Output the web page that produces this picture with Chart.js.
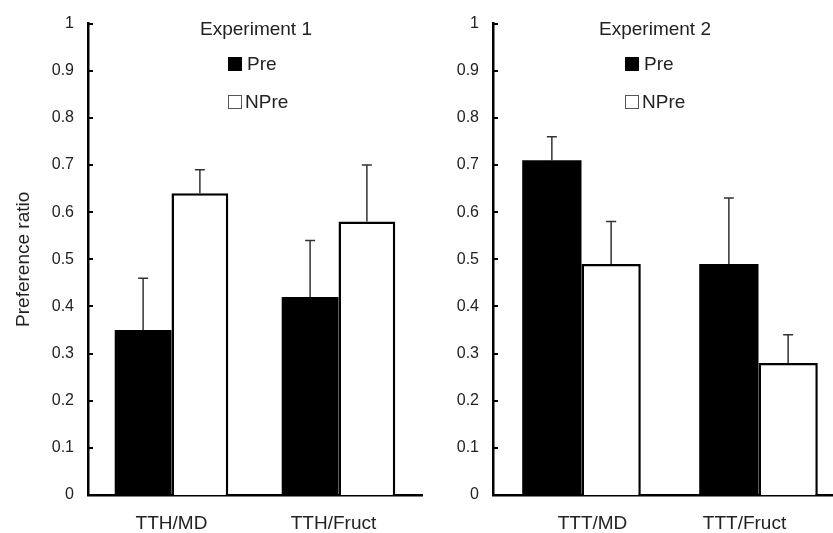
<!DOCTYPE html>
<html>
<head>
<meta charset="utf-8">
<script src="https://cdn.jsdelivr.net/npm/chart.js@4"></script>
<style>
  html, body { margin: 0; padding: 0; background: #fff; }
  #wrap { position: relative; width: 833px; height: 533px; overflow: hidden; }
  canvas { position: absolute; top: 0; }
  #c1 { left: 0; }
  #c2 { left: 420px; }
</style>
</head>
<body>
<div id="wrap">
  <canvas id="c1" width="430" height="533"></canvas>
  <canvas id="c2" width="440" height="533"></canvas>
</div>
<script>
// experiment 1
const exp1Labels = ["TTH/MD", "TTH/Fruct"];
const exp1Pre = [0.35, 0.42];
const exp1PreErr = [0.11, 0.12];
const exp1NPre = [0.64, 0.58];
const exp1NPreErr = [0.05, 0.12];

// experiment 2
const exp2Labels = ["TTT/MD", "TTT/Fruct"];
const exp2Pre = [0.71, 0.49];
const exp2PreErr = [0.05, 0.14];
const exp2NPre = [0.49, 0.28];
const exp2NPreErr = [0.09, 0.06];

const yTicks = [0, 0.1, 0.2, 0.3, 0.4, 0.5, 0.6, 0.7, 0.8, 0.9, 1];

const FONT = "'Liberation Sans', Arial, sans-serif";
const TEXT = "#222";

// error bars (upward only), inside y ticks, category labels, title + legend
const extras = {
  id: "extras",
  afterDatasetsDraw(chart, args, opts) {
    const ctx = chart.ctx;
    const y = chart.scales.y;
    ctx.save();
    ctx.strokeStyle = "#333";
    ctx.lineWidth = 1.5;
    chart.data.datasets.forEach((ds, i) => {
      const meta = chart.getDatasetMeta(i);
      meta.data.forEach((bar, j) => {
        const top = y.getPixelForValue(ds.data[j] + ds.errors[j]);
        ctx.beginPath();
        ctx.moveTo(bar.x, bar.y);
        ctx.lineTo(bar.x, top);
        ctx.moveTo(bar.x - 5, top);
        ctx.lineTo(bar.x + 5, top);
        ctx.stroke();
      });
    });
    ctx.restore();
  },
  afterDraw(chart, args, opts) {
    const ctx = chart.ctx;
    const area = chart.chartArea;
    const x = chart.scales.x;
    const y = chart.scales.y;
    ctx.save();
    // ticks pointing into the plot
    ctx.strokeStyle = "#000";
    ctx.lineWidth = 2;
    yTicks.forEach((t) => {
      const py = Math.round(y.getPixelForValue(t));
      ctx.beginPath();
      ctx.moveTo(area.left, py);
      ctx.lineTo(area.left + 5, py);
      ctx.stroke();
    });

    ctx.fillStyle = TEXT;
    ctx.font = "19px " + FONT;
    ctx.textBaseline = "middle";
    ctx.textAlign = "center";
    chart.data.labels.forEach((lab, i) => {
      ctx.fillText(lab, x.getPixelForValue(i) + opts.labelShift[i], 524);
    });
    ctx.fillText(opts.title, area.left + opts.titleX, 30);

    const bx = area.left + opts.legendX;
    ctx.textAlign = "left";
    ctx.fillStyle = "#000";
    ctx.fillRect(bx, 57, 14, 14);
    ctx.strokeStyle = "#555";
    ctx.lineWidth = 1;
    ctx.strokeRect(bx + 0.5, 95.5, 13, 13);
    ctx.fillStyle = TEXT;
    ctx.fillText("Pre", bx + 19, 65);
    ctx.fillText("NPre", bx + 17, 103);
    ctx.restore();
  },
};

function makeChart(id, labels, pre, preErr, npre, npreErr, cfg) {
  return new Chart(document.getElementById(id), {
    type: "bar",
    data: {
      labels: labels,
      datasets: [
        {
          label: "Pre",
          data: pre,
          errors: preErr,
          backgroundColor: "#000",
          borderColor: "#000",
          borderWidth: 0,
        },
        {
          label: "NPre",
          data: npre,
          errors: npreErr,
          backgroundColor: "#fff",
          borderColor: "#000",
          borderWidth: 2.5,
          borderSkipped: "bottom",
        },
      ],
    },
    options: {
      responsive: false,
      animation: false,
      devicePixelRatio: 1,
      barPercentage: 1,
      categoryPercentage: cfg.catPct,
      layout: { padding: { left: 0, top: 22, right: cfg.padRight, bottom: 0 } },
      scales: {
        x: {
          grid: { display: false, drawTicks: false },
          border: { display: true, color: "#000", width: 2.5 },
          ticks: { display: false },
          afterFit: (scale) => { scale.height = 38; },
        },
        y: {
          min: 0,
          max: 1,
          afterBuildTicks: (scale) => { scale.ticks = yTicks.map((v) => ({ value: v })); },
          grid: { display: false, drawTicks: false },
          border: { display: true, color: "#000", width: 2.5 },
          ticks: {
            color: TEXT,
            font: { family: FONT, size: 16 },
            padding: 14,
            callback: (v) => String(v),
          },
          title: {
            display: cfg.yTitle,
            text: "Preference ratio",
            color: TEXT,
            font: { family: FONT, size: 19 },
            padding: { top: 12, bottom: 0 },
          },
          afterFit: (scale) => { scale.width = cfg.yWidth; },
        },
      },
      plugins: {
        legend: { display: false },
        tooltip: { enabled: false },
        extras: cfg.extras,
      },
    },
    plugins: [extras],
  });
}

makeChart("c1", exp1Labels, exp1Pre, exp1PreErr, exp1NPre, exp1NPreErr, {
  catPct: 0.68,
  padRight: 8,
  yWidth: 88,
  yTitle: true,
  extras: { title: "Experiment 1", titleX: 168, legendX: 140, labelShift: [0, -5] },
});

makeChart("c2", exp2Labels, exp2Pre, exp2PreErr, exp2NPre, exp2NPreErr, {
  catPct: 0.67,
  padRight: 13,
  yWidth: 73,
  yTitle: false,
  extras: { title: "Experiment 2", titleX: 162, legendX: 132, labelShift: [11, -14] },
});
</script>
</body>
</html>
